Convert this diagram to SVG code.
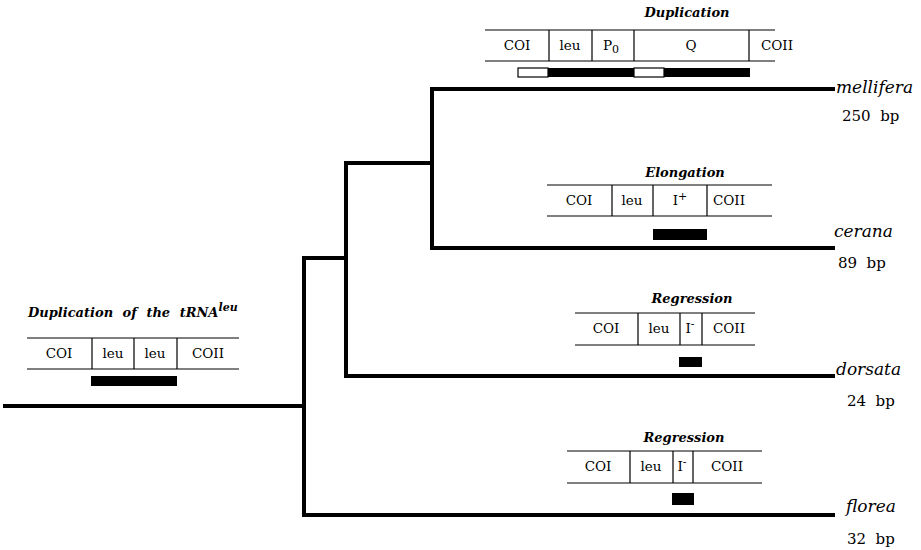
<svg xmlns="http://www.w3.org/2000/svg" width="921" height="550" viewBox="0 0 921 550">
<style>
.br{fill:none;stroke:#000;stroke-width:4;stroke-linejoin:miter}
.bx{stroke:#000;stroke-width:1.2;fill:none}
.t{font-family:"DejaVu Serif","Liberation Serif",serif;font-size:13.5px;fill:#000;text-anchor:middle}
.ti{font-family:"DejaVu Serif","Liberation Serif",serif;font-size:13px;font-weight:bold;font-style:italic;fill:#000;text-anchor:middle}
.sp{font-family:"DejaVu Serif","Liberation Serif",serif;font-size:17px;font-style:italic;fill:#000}
.bp{font-family:"DejaVu Serif","Liberation Serif",serif;font-size:15px;fill:#000;white-space:pre}
.blk{fill:#000}
.wht{fill:#fff;stroke:#000;stroke-width:1.2}
</style>
<g id="connectors">
<path class="br" d="M3 406 H304"/>
<path class="br" d="M346 258 H304 V515 H835"/>
<path class="br" d="M432 163 H346 V376 H835"/>
<path class="br" d="M835 89 H432 V248 H835"/>
</g>
<g id="ancestral">
<text class="ti" x="28" y="317" style="text-anchor:start;word-spacing:5px">Duplication of the tRNA<tspan font-size="11" dy="-6">leu</tspan></text>
<path class="bx" d="M27 338 H239 M27 369 H239 M92 338 V369 M134 338 V369 M177 338 V369"/>
<text class="t" x="59" y="358">COI</text>
<text class="t" x="113" y="358">leu</text>
<text class="t" x="155" y="358">leu</text>
<text class="t" x="208" y="358">COII</text>
<rect class="blk" x="91" y="376" width="86" height="10"/>
</g>
<g id="duplication">
<text class="ti" x="687" y="17">Duplication</text>
<path class="bx" d="M485 30 H775 M485 61 H775 M549 30 V61 M592 30 V61 M634 30 V61 M749 30 V61"/>
<text class="t" x="517" y="50">COI</text>
<text class="t" x="570" y="50">leu</text>
<text class="t" x="611" y="50">P<tspan font-size="11" dy="3">0</tspan></text>
<text class="t" x="691" y="50">Q</text>
<text class="t" x="777" y="50">COII</text>
<rect class="blk" x="518" y="68" width="232" height="9"/>
<rect class="wht" x="518" y="68" width="30" height="9"/>
<rect class="wht" x="634" y="68" width="30" height="9"/>
</g>
<g id="elongation">
<text class="ti" x="685" y="177">Elongation</text>
<path class="bx" d="M547 185 H772 M547 216 H772 M612 185 V216 M653 185 V216 M707 185 V216"/>
<text class="t" x="579" y="205">COI</text>
<text class="t" x="632" y="205">leu</text>
<text class="t" x="680" y="205">I<tspan font-size="11" dy="-5">+</tspan></text>
<text class="t" x="729" y="205">COII</text>
<rect class="blk" x="653" y="229" width="54" height="11"/>
</g>
<g id="regression-dorsata">
<text class="ti" x="692" y="303">Regression</text>
<path class="bx" d="M575 313 H755 M575 345 H755 M638 313 V345 M680 313 V345 M702 313 V345"/>
<text class="t" x="606" y="333">COI</text>
<text class="t" x="659" y="333">leu</text>
<text class="t" x="690" y="333">I<tspan font-size="11" dy="-5">-</tspan></text>
<text class="t" x="729" y="333">COII</text>
<rect class="blk" x="679" y="357" width="23" height="10"/>
</g>
<g id="regression-florea">
<text class="ti" x="684" y="442">Regression</text>
<path class="bx" d="M567 451 H762 M567 483 H762 M630 451 V483 M673 451 V483 M693 451 V483"/>
<text class="t" x="598" y="471">COI</text>
<text class="t" x="651" y="471">leu</text>
<text class="t" x="682" y="471">I<tspan font-size="11" dy="-5">-</tspan></text>
<text class="t" x="727" y="471">COII</text>
<rect class="blk" x="672" y="493" width="22" height="12"/>
</g>
<g id="mellifera">
<text class="sp" x="836" y="93">mellifera</text>
<text class="bp" x="842" y="121">250  bp</text>
</g>
<g id="cerana">
<text class="sp" x="834" y="237">cerana</text>
<text class="bp" x="838" y="268">89  bp</text>
</g>
<g id="dorsata">
<text class="sp" x="836" y="375">dorsata</text>
<text class="bp" x="847" y="406">24  bp</text>
</g>
<g id="florea">
<text class="sp" x="846" y="512">florea</text>
<text class="bp" x="847" y="544">32  bp</text>
</g>
</svg>
